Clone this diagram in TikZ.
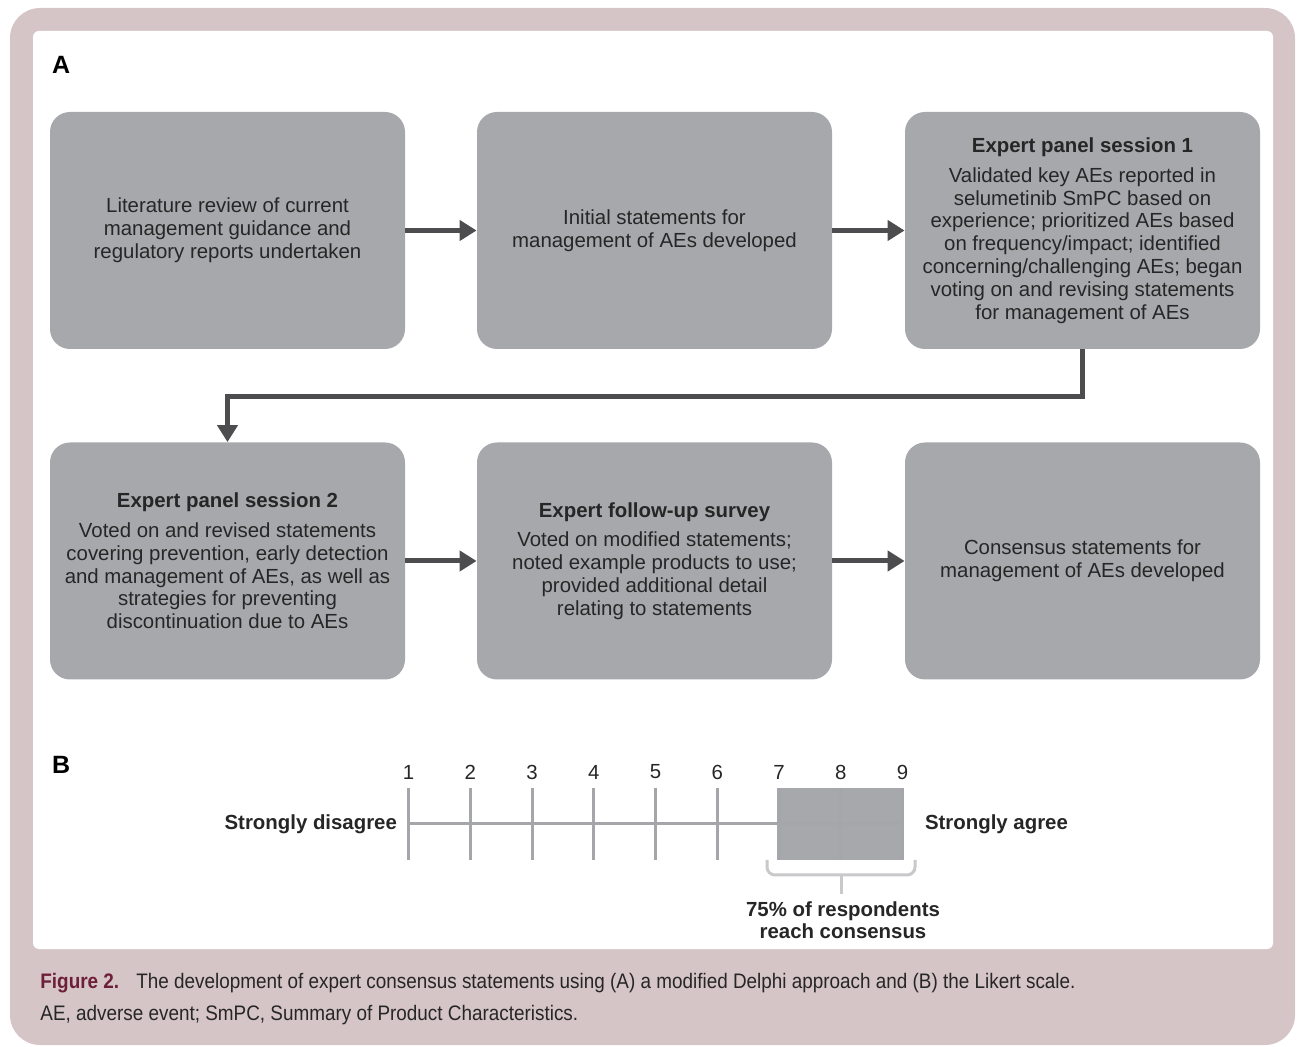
\documentclass[tikz,border=0pt]{standalone}
\usepackage{fontspec}
\setmainfont{Liberation Sans}
\newfontfamily\capfont[FakeStretch=0.9]{Liberation Sans}
\usetikzlibrary{arrows.meta}
\definecolor{framepink}{HTML}{D6C5C7}
\definecolor{boxgrey}{HTML}{A7A8AB}
\definecolor{arrowgrey}{HTML}{4D4D4F}
\definecolor{textgrey}{HTML}{262626}
\definecolor{scalegrey}{HTML}{A5A6A9}
\definecolor{bracegrey}{HTML}{C9C9CB}
\definecolor{figred}{HTML}{6D1F3A}
\begin{document}
\begin{tikzpicture}[
        x=0.5pt, y=-0.5pt,
        stage/.style={rectangle, rounded corners=10pt, fill=boxgrey, text=textgrey, minimum width=177.5pt, minimum height=118.5pt, inner sep=0pt, align=center, font=\fontsize{10.2}{11.4}\selectfont},
        flow/.style={draw=arrowgrey, line width=2.5pt, -{Triangle[length=8.5pt,width=10pt]}},
        tick/.style={draw=scalegrey, line width=1.5pt},
        scalelabel/.style={text=textgrey, font=\fontsize{10.2}{11}\selectfont},
        scalebold/.style={text=textgrey, align=center, font=\bfseries\fontsize{10.2}{11}\selectfont},
        panel/.style={anchor=base west, text=black, font=\bfseries\fontsize{12.5}{14}\selectfont},
        caption/.style={anchor=base west, inner sep=0pt, text=textgrey, font=\capfont\fontsize{10.5}{12}\selectfont}
        ]

    \useasboundingbox (0, 0) rectangle (1297, 1047);
    \fill[framepink, rounded corners=15pt] (10, 8) rectangle (1295, 1045);
    \fill[white, rounded corners=3pt] (33, 31) rectangle (1273, 949);

    \node (partA) at (45, 74) [panel] {A};
    \node (partB) at (45, 774) [panel] {B};

    \node (lit) at (227.5, 230.5) [stage] {Literature review of current\\management guidance and\\regulatory reports undertaken};
    \node (init) at (654.5, 230.5) [stage] {Initial statements for\\management of AEs developed};
    \node (panel1) at (1082.5, 230.5) [stage] {\textbf{Expert panel session 1}\\[3.5pt]Validated key AEs reported in\\selumetinib SmPC based on\\experience; prioritized AEs based\\on frequency/impact; identified\\concerning/challenging AEs; began\\voting on and revising statements\\for management of AEs};
    \node (panel2) at (227.5, 561) [stage] {\textbf{Expert panel session 2}\\[3.5pt]Voted on and revised statements\\covering prevention, early detection\\and management of AEs, as well as\\strategies for preventing\\discontinuation due to AEs};
    \node (survey) at (654.5, 561) [stage] {\textbf{Expert follow-up survey}\\[3.5pt]Voted on modified statements;\\noted example products to use;\\provided additional detail\\relating to statements};
    \node (consensus) at (1082.5, 561) [stage] {Consensus statements for\\management of AEs developed};
    \coordinate (turn) at (1082.5, 397);

    \draw[flow] (lit) to (init);
    \draw[flow] (init) to (panel1);
    \draw[flow] (panel1.south) -- (turn) -| (panel2.north);
    \draw[flow] (panel2) to (survey);
    \draw[flow] (survey) to (consensus);

    \fill[boxgrey] (777, 788) rectangle (903, 860);
    \draw[tick] (408.5, 824) -- (902.5, 824);
    \foreach \n in {1,...,9} {
        \node (num\n) at ({408.5+61.75*(\n-1)}, 772) [scalelabel] {\n};
        \draw[tick] ({408.5+61.75*(\n-1)}, 788) -- ({408.5+61.75*(\n-1)}, 860);
    }
    \node (disagree) at (404, 824) [scalebold, anchor=east] {Strongly disagree};
    \node (agree) at (918, 824) [scalebold, anchor=west] {Strongly agree};

    \node (reach) at (843, 920) [scalebold] {75\% of respondents\\reach consensus};
    \coordinate (bracetip) at (841, 875);
    \draw[bracegrey, line width=1.5pt, rounded corners=4pt] (767, 860) -- (767, 875) -- (915, 875) -- (915, 860);
    \draw[bracegrey, line width=1.5pt] (bracetip) -- (bracetip |- reach.north);

    \node (figlabel) at (40, 988) [caption, text=figred] {\textbf{Figure 2.}};
    \node (captext) at (136, 988) [caption] {The development of expert consensus statements using (A) a modified Delphi approach and (B) the Likert scale.};
    \node (abbrev) at (40, 1020) [caption] {AE, adverse event; SmPC, Summary of Product Characteristics.};
\end{tikzpicture}
\end{document}
